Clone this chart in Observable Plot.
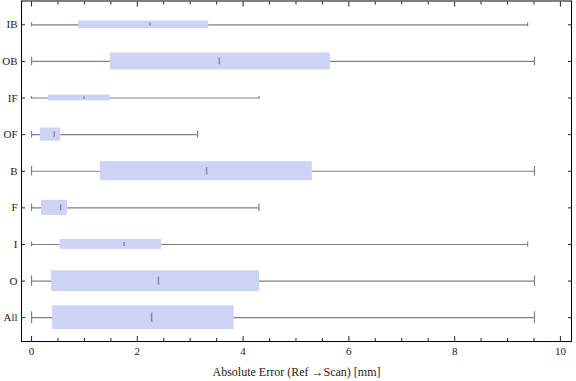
<!DOCTYPE html>
<html><head><meta charset="utf-8">
<script src="https://cdn.jsdelivr.net/npm/d3@7"></script>
<script src="https://cdn.jsdelivr.net/npm/@observablehq/plot@0.6"></script>
<style>body{margin:0;background:#fff} svg text{font-family:'Liberation Serif','Times New Roman',serif}</style>
</head><body><div id="chart"></div>
<script>
// Data, top to bottom
const categories = ["IB", "OB", "IF", "OF", "B", "F", "I", "O", "All"];
const whiskerLow = [0, 0, 0, 0, 0, 0, 0, 0, 0];
const quartile1  = [0.89, 1.49, 0.32, 0.17, 1.30, 0.19, 0.54, 0.38, 0.40];
const medians    = [2.24, 3.55, 0.99, 0.43, 3.31, 0.55, 1.75, 2.40, 2.27];
const quartile3  = [3.35, 5.65, 1.49, 0.55, 5.31, 0.68, 2.46, 4.31, 3.83];
const whiskerHigh= [9.38, 9.51, 4.30, 3.14, 9.51, 4.30, 9.38, 9.51, 9.51];
const boxWeight  = [0.21, 0.46, 0.16, 0.36, 0.52, 0.41, 0.27, 0.57, 0.65];
const majorTicks = [0, 2, 4, 6, 8, 10];
const minorTicks = [0.5, 1, 1.5, 2.5, 3, 3.5, 4.5, 5, 5.5, 6.5, 7, 7.5, 8.5, 9, 9.5];
const xLabel = "Absolute Error (Ref \u2192Scan) [mm]";

const rows = categories.map((c, i) => ({
  cat: c, i, lo: whiskerLow[i], q1: quartile1[i], med: medians[i],
  q3: quartile3[i], hi: whiskerHigh[i], w: boxWeight[i]
}));
const idx = rows.map(d => d.i);

const whisker = "#808080";
const chart = Plot.plot({
  width: 576, height: 381,
  marginLeft: 21, marginRight: 5, marginTop: 0.5, marginBottom: 40,
  style: {fontFamily: "'Liberation Serif', 'Times New Roman', serif", fontSize: "11px", background: "#fff", color: "#222"},
  x: {domain: [-0.19, 10.21], label: null},
  y: {domain: [-0.65, 8.65], reverse: true, label: null},
  marks: [
    Plot.ruleY(rows, {y: "i", x1: "lo", x2: "hi", stroke: whisker, strokeWidth: 1.2}),
    Plot.ruleX(rows, {x: "lo", y1: d => d.i - d.w / 4, y2: d => d.i + d.w / 4, stroke: whisker, strokeWidth: 1.2}),
    Plot.ruleX(rows, {x: "hi", y1: d => d.i - d.w / 4, y2: d => d.i + d.w / 4, stroke: whisker, strokeWidth: 1.2}),
    Plot.rect(rows, {x1: "q1", x2: "q3", y1: d => d.i - d.w / 2, y2: d => d.i + d.w / 2, fill: "#cdd3f5"}),
    Plot.ruleX(rows, {x: "med", y1: d => d.i - d.w * 0.2, y2: d => d.i + d.w * 0.2, stroke: "#8c8c8c", strokeWidth: 1.5}),
    Plot.frame({stroke: "black"}),
    Plot.axisX({anchor: "bottom", ticks: majorTicks, tickSize: -5, tickFormat: () => "", label: null}),
    Plot.axisX({anchor: "bottom", ticks: minorTicks, tickSize: -3, tickFormat: () => "", label: null}),
    Plot.axisX({anchor: "top", ticks: majorTicks, tickSize: -5, tickFormat: () => "", label: null}),
    Plot.axisX({anchor: "top", ticks: minorTicks, tickSize: -3, tickFormat: () => "", label: null}),
    Plot.axisY({anchor: "left", ticks: idx, tickSize: -4, tickFormat: () => "", label: null}),
    Plot.axisY({anchor: "right", ticks: idx, tickSize: -4, tickFormat: () => "", label: null}),
    Plot.text(majorTicks, {x: d => d, text: d => String(d), frameAnchor: "bottom", dy: 10, lineAnchor: "middle", fill: "#222", fontSize: 11}),
    Plot.text(rows, {y: "i", text: "cat", frameAnchor: "left", dx: -4, textAnchor: "end", lineAnchor: "middle", fill: "#222", fontSize: 11}),
    Plot.text([xLabel], {text: d => d, frameAnchor: "bottom", dy: 31, lineAnchor: "middle", fill: "#222", fontSize: 12})
  ]
});
document.getElementById("chart").appendChild(chart);
</script>
</body></html>
